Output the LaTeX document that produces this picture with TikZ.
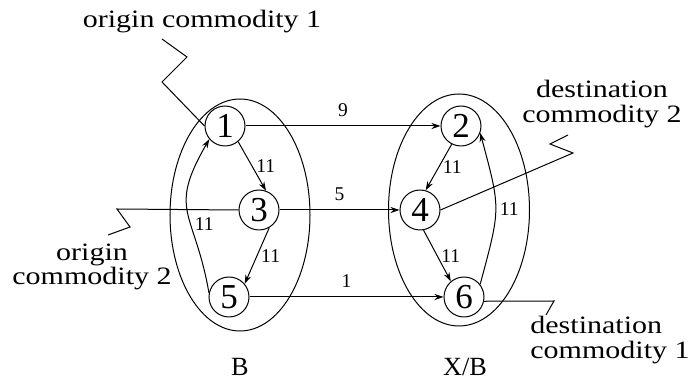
\documentclass[tikz,border=0pt]{standalone}
\usepackage{fontspec}
\setmainfont{Liberation Serif}
\newfontfamily\widefont[FakeStretch=1.2]{Liberation Serif}
\usetikzlibrary{arrows.meta,shapes.geometric}
\begin{document}
\begin{tikzpicture}[x=0.4pt, y=0.4pt, >={Stealth[length=3.6pt,width=2.4pt]}, thin,
  vertex/.style={draw, circle, inner sep=0pt, minimum size=16pt, font=\fontsize{14}{14}\selectfont},
  group/.style={draw, ellipse, inner sep=0pt, minimum height=92.8pt},
  weight/.style={font=\fontsize{7.8}{8}\selectfont, inner sep=1.5pt},
  caption/.style={font=\widefont\fontsize{10}{9.8}\selectfont, inner sep=0pt},
  setname/.style={font=\fontsize{10.5}{11}\selectfont, inner sep=0pt}]
\useasboundingbox (0,0) rectangle (688,380);
\node[group, minimum width=56pt] (setB) at (240,165) {};
\node[group, minimum width=56.4pt] (setXB) at (459,170) {};
\node[vertex] (n1) at (225,254) {1};
\node[vertex] (n2) at (461,254) {2};
\node[vertex] (n3) at (259,170) {3};
\node[vertex] (n4) at (420,170) {4};
\node[vertex] (n5) at (229,83) {5};
\node[vertex] (n6) at (464,83) {6};
\node[setname] (nameB) at (240,13) {B};
\node[setname] (nameXB) at (465,13) {X/B};
\node[caption] (orig1) at (202,358) {origin commodity 1};
\node[caption, align=center] (orig2) at (92,113) {origin\\commodity 2};
\node[caption, align=center] (dest2) at (602,276) {destination\\commodity 2};
\node[caption, align=left] (dest1) at (610,40) {destination\\commodity 1};
\coordinate (orig1tip) at (162,341);
\coordinate (orig2tip) at (108,145);
\coordinate (dest2tip) at (568,245);
\coordinate (dest1tip) at (546,65);
\draw[->] (n1) -- (n2) node[weight, midway, above=2pt] {9};
\draw[->] (n3) -- (n4) node[weight, midway, above=2pt] {5};
\draw[->] (n5) -- (n6) node[weight, midway, above=2pt] {1};
\draw[->] (n1.-50) -- (n3.70) node[weight, midway, right] {11};
\draw[->] (n3.-60) -- (n5.40) node[weight, midway, right] {11};
\draw[->] (n5.168) to[out=100, in=240, looseness=1.4] node[weight, pos=0.4, right] {11} (n1.220);
\draw[->] (n2.243) -- (n4.74) node[weight, midway, right] {11};
\draw[->] (n4.-80) -- (n6.130) node[weight, midway, right] {11};
\draw[->] (n6.38) to[out=75, in=-75, looseness=1.35] node[weight, midway, right] {11} (n2.-20);
\draw (orig1tip) -- (187,323) -- (162,298) -- (n1.west);
\draw (orig2tip) -- (130,153) -- (117,171) -- (n3.west);
\draw (n4.east) -- (573,227) -- (550,236) -- (dest2tip);
\draw (n6.-12) -- (554,79) -- (dest1tip);
\end{tikzpicture}
\end{document}
